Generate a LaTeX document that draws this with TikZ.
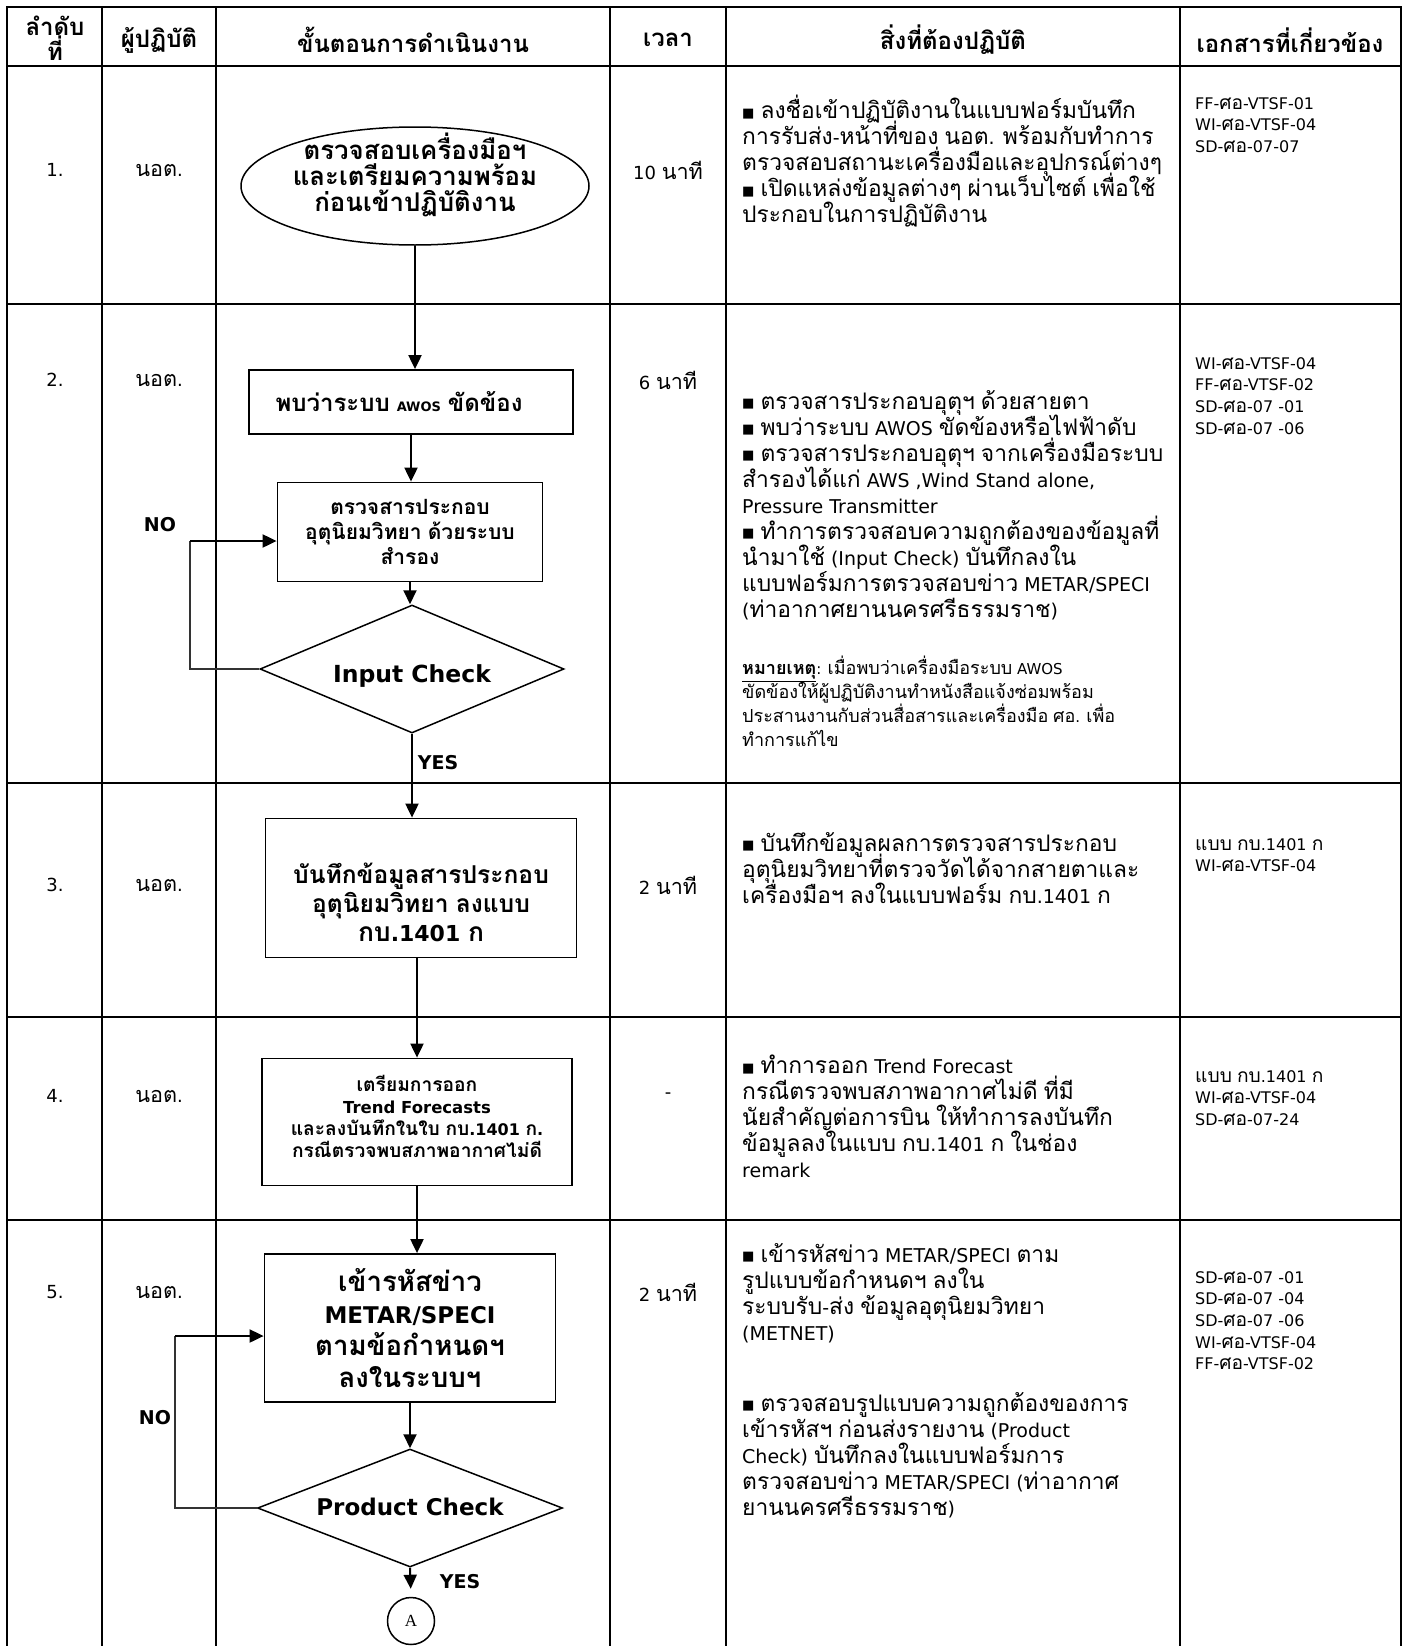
\documentclass[tikz,border=0pt]{standalone}
\usepackage{fontspec}
\setmainfont{DejaVu Sans}
\newfontfamily\thaifont{Loma}[Script=Thai, Scale=1.2]
\newfontfamily\symfont{DejaVu Sans}
\newfontfamily\timesfont{Liberation Serif}
\usetikzlibrary{shapes.geometric,arrows.meta,positioning}

% Thai runs in Loma, everything else in DejaVu Sans
\XeTeXinterchartokenstate=1
\newXeTeXintercharclass\thaiclass
\newcount\thaicnt
\thaicnt="0E01
\loop
  \XeTeXcharclass\thaicnt=\thaiclass
  \ifnum\thaicnt<"0E5B
  \advance\thaicnt by 1
\repeat
\XeTeXinterchartoks 0 \thaiclass = {\begingroup\thaifont}
\XeTeXinterchartoks 4095 \thaiclass = {\begingroup\thaifont}
\XeTeXinterchartoks \thaiclass 0 = {\endgroup}
\XeTeXinterchartoks \thaiclass 4095 = {\endgroup}

\newcommand{\sqmark}{\raisebox{1.5pt}{\symfont\fontsize{13}{13}\selectfont ■}}

\begin{document}
\lineskiplimit=-100pt
\begin{tikzpicture}[x=1pt, y=-1pt,
    gridline/.style={line width=2.6pt},
    head/.style={font=\fontsize{20}{25}\selectfont\bfseries, align=center, inner sep=0pt},
    cell/.style={font=\fontsize{18}{22}\selectfont, inner sep=0pt},
    desc/.style={font=\fontsize{19}{26}\selectfont, align=left, anchor=north west, inner sep=0pt, execute at begin node=\strut},
    note/.style={font=\fontsize{15}{24}\selectfont, align=left, anchor=north west, inner sep=0pt, execute at begin node=\strut},
    refs/.style={font=\fontsize{16}{21.7}\selectfont, align=left, anchor=north west, inner sep=0pt, execute at begin node=\strut},
    flowbox/.style={rectangle, draw, line width=1.8pt, align=center, inner sep=0pt},
    flowarrow/.style={line width=2pt, -{Triangle[length=14pt, width=13pt]}},
    loopline/.style={line width=1.2pt, black!80},
    tag/.style={font=\fontsize{19}{19}\selectfont\bfseries, inner sep=0pt}
]
\useasboundingbox (0,0) rectangle (1406,1646);

% table
\draw[gridline] (7,1646) -- (7,7) -- (1401,7) -- (1401,1646);
\foreach \yy in {66,304,783,1017,1220}
  \draw[gridline] (7,\yy) -- (1401,\yy);
\foreach \xx in {102,216,610,726,1180}
  \draw[gridline] (\xx,7) -- (\xx,1646);

% header
\node[head] (hno) at (55,38) {ลำดับ\\ที่};
\node[head] (hwho) at (159,40) {ผู้ปฏิบัติ};
\node[head] (hstep) at (413,40) {ขั้นตอนการดำเนินงาน};
\node[head] (htime) at (668,40) {เวลา};
\node[head] (htask) at (953,40) {สิ่งที่ต้องปฏิบัติ};
\node[head] (hdoc) at (1290,40) {เอกสารที่เกี่ยวข้อง};

% number, operator, time
\node[cell] (no1) at (55,170) {1.};
\node[cell] (who1) at (159,170) {นอต.};
\node[cell] (time1) at (668,170) {10 นาที};
\node[cell] (no2) at (55,380) {2.};
\node[cell] (who2) at (159,380) {นอต.};
\node[cell] (time2) at (668,380) {6 นาที};
\node[cell] (no3) at (55,885) {3.};
\node[cell] (who3) at (159,885) {นอต.};
\node[cell] (time3) at (668,885) {2 นาที};
\node[cell] (no4) at (55,1096) {4.};
\node[cell] (who4) at (159,1096) {นอต.};
\node[cell] (time4) at (668,1096) {-};
\node[cell] (no5) at (55,1292) {5.};
\node[cell] (who5) at (159,1292) {นอต.};
\node[cell] (time5) at (668,1292) {2 นาที};

% flow chart
\node[ellipse, draw, line width=1.5pt, inner sep=0pt, minimum width=348pt, minimum height=118pt] (start) at (415,186) {};
\node[align=center, inner sep=0pt, font=\fontsize{21.5}{26}\selectfont\bfseries] (starttext) at (415,175)
      {ตรวจสอบเครื่องมือฯ\\และเตรียมความพร้อม\\ก่อนเข้าปฏิบัติงาน};
\node[flowbox, minimum width=324pt, minimum height=64pt, font=\fontsize{20}{24}\selectfont\bfseries] (awos) at (411,402)
      {พบว่าระบบ {\fontsize{13}{13}\selectfont AWOS} ขัดข้อง\hspace*{24pt}};
\node[flowbox, minimum width=265pt, minimum height=99pt, font=\fontsize{17.5}{25}\selectfont\bfseries] (backup) at (410,532)
      {ตรวจสารประกอบ\\อุตุนิยมวิทยา ด้วยระบบ\\สำรอง};
\node[diamond, draw, line width=1.5pt, inner sep=0pt, minimum width=304pt, minimum height=128pt,
      font=\fontsize{23.5}{23.5}\selectfont\bfseries] (incheck) at (412,669)
      {\makebox[0pt]{\smash{\raisebox{-13pt}{Input Check}}}};
\node[flowbox, minimum width=311pt, minimum height=139pt, font=\fontsize{20.5}{29}\selectfont\bfseries] (record) at (421,888)
      {\rule{0pt}{50pt}บันทึกข้อมูลสารประกอบ\\อุตุนิยมวิทยา ลงแบบ\\{\fontsize{22}{29}\selectfont กบ.1401 ก}};
\node[flowbox, minimum width=310pt, minimum height=127pt, font=\fontsize{16}{22}\selectfont\bfseries] (trend) at (417,1122)
      {เตรียมการออก\\{\fontsize{16.5}{22}\selectfont Trend Forecasts}\\และลงบันทึกในใบ กบ.1401 ก.\\กรณีตรวจพบสภาพอากาศไม่ดี\rule[-12pt]{0pt}{12pt}};
\node[flowbox, minimum width=291pt, minimum height=148pt, font=\fontsize{23}{32}\selectfont\bfseries] (encode) at (410,1328)
      {เข้ารหัสข่าว\\METAR/SPECI\\ตามข้อกำหนดฯ\\ลงในระบบฯ};
\node[diamond, draw, line width=1.5pt, inner sep=0pt, minimum width=305pt, minimum height=118pt,
      font=\fontsize{23}{23}\selectfont\bfseries] (prodcheck) at (410,1508)
      {\makebox[0pt]{\smash{\raisebox{-7pt}{Product Check}}}};
\node[circle, draw, line width=1.5pt, inner sep=0pt, minimum size=47pt, font=\timesfont\fontsize{17}{17}\selectfont] (conA) at (411,1621) {A};

\coordinate (loopa) at (190,541);
\coordinate (loopb) at (175,1336);

\node[tag] (no1tag) at (160,525) {NO};
\node[tag] (yes1tag) at (438,763) {YES};
\node[tag] (no2tag) at (155,1418) {NO};
\node[tag] (yes2tag) at (460,1582) {YES};

\draw[flowarrow] (start.south) -- (start.south |- awos.north);
\draw[flowarrow] (awos.south) -- (awos.south |- backup.north);
\draw[flowarrow] (backup.south) -- (backup.south |- incheck.north);
\draw[flowarrow] (incheck.south) -- (incheck.south |- record.north);
\draw[loopline] (incheck.west) -| (loopa);
\draw[flowarrow] (loopa) -- (backup.west |- loopa);
\draw[flowarrow] (record.south -| trend.north) -- (trend.north);
\draw[flowarrow] (trend.south) -- (trend.south |- encode.north);
\draw[flowarrow] (encode.south) -- (encode.south |- prodcheck.north);
\draw[loopline] (prodcheck.west) -| (loopb);
\draw[flowarrow] (loopb) -- (encode.west |- loopb);
\draw[flowarrow, shorten >=8pt] (prodcheck.south) -- (conA.north);

% tasks
\node[desc] (task1) at (742,95)
  {\sqmark\ ลงชื่อเข้าปฏิบัติงานในแบบฟอร์มบันทึก\\การรับส่ง-หน้าที่ของ นอต. พร้อมกับทำการ\\ตรวจสอบสถานะเครื่องมือและอุปกรณ์ต่างๆ\\\sqmark\ เปิดแหล่งข้อมูลต่างๆ ผ่านเว็บไซต์ เพื่อใช้\\ประกอบในการปฏิบัติงาน};
\node[desc] (task2) at (742,390)
  {\sqmark\ ตรวจสารประกอบอุตุฯ ด้วยสายตา\\\sqmark\ พบว่าระบบ AWOS ขัดข้องหรือไฟฟ้าดับ\\\sqmark\ ตรวจสารประกอบอุตุฯ จากเครื่องมือระบบ\\สำรองได้แก่ AWS ,Wind Stand alone,\\Pressure Transmitter\\\sqmark\ ทำการตรวจสอบความถูกต้องของข้อมูลที่\\นำมาใช้ (Input Check) บันทึกลงใน\\แบบฟอร์มการตรวจสอบข่าว METAR/SPECI\\(ท่าอากาศยานนครศรีธรรมราช)};
\node[note] (note2) at (742,656)
  {\underline{\textbf{หมายเหตุ}}: เมื่อพบว่าเครื่องมือระบบ AWOS\\ขัดข้องให้ผู้ปฏิบัติงานทำหนังสือแจ้งซ่อมพร้อม\\ประสานงานกับส่วนสื่อสารและเครื่องมือ ศอ. เพื่อ\\ทำการแก้ไข};
\node[desc] (task3) at (742,832)
  {\sqmark\ บันทึกข้อมูลผลการตรวจสารประกอบ\\อุตุนิยมวิทยาที่ตรวจวัดได้จากสายตาและ\\เครื่องมือฯ ลงในแบบฟอร์ม กบ.1401 ก};
\node[desc] (task4) at (742,1055)
  {\sqmark\ ทำการออก Trend Forecast\\กรณีตรวจพบสภาพอากาศไม่ดี ที่มี\\นัยสำคัญต่อการบิน ให้ทำการลงบันทึก\\ข้อมูลลงในแบบ กบ.1401 ก ในช่อง\\remark};
\node[desc] (task5a) at (742,1243)
  {\sqmark\ เข้ารหัสข่าว METAR/SPECI ตาม\\รูปแบบข้อกำหนดฯ ลงใน\\ระบบรับ-ส่ง ข้อมูลอุตุนิยมวิทยา\\(METNET)};
\node[desc] (task5b) at (742,1392)
  {\sqmark\ ตรวจสอบรูปแบบความถูกต้องของการ\\เข้ารหัสฯ ก่อนส่งรายงาน (Product\\Check) บันทึกลงในแบบฟอร์มการ\\ตรวจสอบข่าว METAR/SPECI (ท่าอากาศ\\ยานนครศรีธรรมราช)};

% documents
\node[refs] (doc1) at (1195,97) {FF-ศอ-VTSF-01\\WI-ศอ-VTSF-04\\SD-ศอ-07-07};
\node[refs] (doc2) at (1195,357) {WI-ศอ-VTSF-04\\FF-ศอ-VTSF-02\\SD-ศอ-07 -01\\SD-ศอ-07 -06};
\node[refs] (doc3) at (1195,838) {แบบ กบ.1401 ก\\WI-ศอ-VTSF-04};
\node[refs] (doc4) at (1195,1070) {แบบ กบ.1401 ก\\WI-ศอ-VTSF-04\\SD-ศอ-07-24};
\node[refs] (doc5) at (1195,1271) {SD-ศอ-07 -01\\SD-ศอ-07 -04\\SD-ศอ-07 -06\\WI-ศอ-VTSF-04\\FF-ศอ-VTSF-02};

\end{tikzpicture}
\end{document}
